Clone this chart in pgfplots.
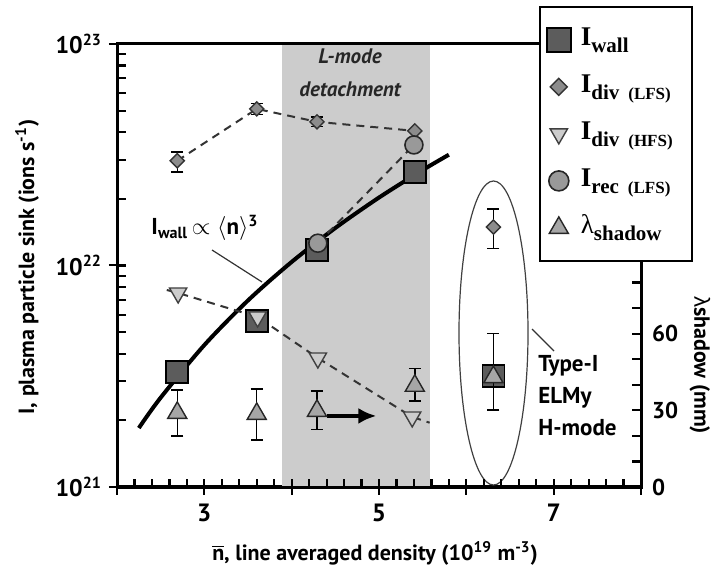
\documentclass[border=0pt]{standalone}
\usepackage{pgfplots}
\pgfplotsset{compat=1.18}
\usepackage{fontspec}
\setmainfont{PT Sans}
\newfontfamily\legfont{Liberation Serif}
\newfontfamily\gfont{Liberation Sans}
\usetikzlibrary{arrows.meta}
\definecolor{shadegray}{gray}{0.80}
\definecolor{sqfill}{gray}{0.36}
\definecolor{dmfill}{gray}{0.55}
\definecolor{dtfill}{gray}{0.80}
\definecolor{cifill}{gray}{0.60}
\definecolor{trfill}{gray}{0.65}
\newcommand\lsub[1]{\raisebox{-3.5pt}{\fontsize{10.5}{10.5}\selectfont #1}}
\newcommand\lsm[1]{{\fontsize{8.5}{8.5}\selectfont #1}}
\begin{document}
\begin{tikzpicture}[font=\fontsize{11}{13}\selectfont\bfseries]
\path[use as bounding box] (-58.5pt,-43pt) rectangle (302pt,243.5pt);
\pgfplotsset{base/.style={at={(0,0)}, anchor=south west, scale only axis,
  width=262pt, height=221.5pt, xmin=2, xmax=8}}
% ---------------- left axis: particle sinks ----------------
\begin{axis}[base, ymode=log, ymin=1e21, ymax=1e23,
  xtick pos=left, ytick pos=left,
  axis line style={line width=1.5pt},
  major tick style={black, line width=1pt},
  tick align=outside, major tick length=4pt, minor tick length=0pt,
  xtick={2,3,4,5,6,7,8}, xticklabels={,3,,5,,7,},
  ytick={1e21,1e22,1e23},
  yticklabels={10\textsuperscript{21},10\textsuperscript{22},10\textsuperscript{23}},
  minor ytick={5e22},
  xticklabel style={yshift=-1pt, font=\fontsize{12.5}{14}\selectfont\bfseries},
  yticklabel style={xshift=0pt, font=\fontsize{12}{14}\selectfont\bfseries},
  error bars/error bar style={black, line width=0.7pt},
  error bars/error mark options={black, line width=0.7pt, mark size=3pt, rotate=90},
]
\fill[shadegray] (axis cs:3.89,1e21) rectangle (axis cs:5.58,1e23);
% I_wall ~ <n>^3 fit
\addplot[black, line width=2pt, smooth] coordinates {
 (2.25,1.845e21) (2.5,2.53e21) (3.0,4.37e21) (3.5,6.95e21) (4.0,1.037e22)
 (4.5,1.476e22) (5.0,2.025e22) (5.5,2.695e22) (5.8,3.161e22)};
% dashed guide lines
\addplot[black!80, line width=1pt, dash pattern=on 4pt off 3pt] coordinates {
 (2.69,2.97e22) (3.60,5.09e22) (4.29,4.45e22) (5.41,4.05e22)};
\addplot[black!80, line width=1pt, dash pattern=on 4pt off 3pt] coordinates {
 (2.57,7.75e21) (2.70,7.51e21) (3.61,5.85e21) (4.30,3.82e21) (5.38,2.07e21) (5.58,1.95e21)};
\addplot[black!80, line width=1pt, dash pattern=on 4pt off 3pt] coordinates {
 (4.30,1.26e22) (5.40,3.50e22)};
% I_wall
\addplot[only marks, mark=square*, mark size=5.5pt,
  mark options={fill=sqfill, draw=black, line width=0.8pt}] coordinates {
 (2.69,3.30e21) (3.60,5.61e21) (4.29,1.175e22) (5.41,2.64e22) (6.31,3.17e21)};
% I_div (LFS)
\addplot[only marks, mark=square*, mark size=2.5pt,
  mark options={rotate=45, fill=dmfill, draw=black!80, line width=0.7pt},
  error bars/.cd, y dir=both, y explicit] coordinates {
 (2.69,2.97e22) += (0,0.28e22) -= (0,0.33e22)
 (3.60,5.09e22) += (0,0.30e22) -= (0,0.30e22)
 (4.29,4.45e22) += (0,0.22e22) -= (0,0.22e22)
 (5.41,4.05e22) += (0,0) -= (0,0)
 (6.31,1.49e22) += (0,0.31e22) -= (0,0.30e22)};
% I_div (HFS)
\addplot[only marks, mark=triangle*, mark size=5pt,
  mark options={rotate=180, fill=dtfill, draw=black!75, line width=0.7pt}] coordinates {
 (2.70,7.51e21) (3.61,5.85e21) (4.30,3.82e21) (5.38,2.07e21)};
% I_rec (LFS)
\addplot[only marks, mark=*, mark size=4.5pt,
  mark options={fill=cifill, draw=black!85, line width=0.8pt}] coordinates {
 (4.30,1.26e22) (5.40,3.50e22)};
\end{axis}
% ---------------- right axis: lambda shadow ----------------
\begin{axis}[base, ymin=0, ymax=173.3,
  ytick pos=right, xtick=\empty,
  axis line style={line width=1.5pt},
  major tick style={draw=none},
  tick align=outside, major tick length=0pt,
  ytick={0,30,60}, yticklabels={0,30,60},
  yticklabel style={xshift=2pt, font=\fontsize{11.5}{14}\selectfont\bfseries},
  error bars/error bar style={black, line width=0.7pt},
  error bars/error mark options={black, line width=0.7pt, mark size=3pt, rotate=90},
]
\addplot[only marks, mark=triangle*, mark size=5.5pt,
  mark options={fill=trfill, draw=black!85, line width=0.7pt},
  error bars/.cd, y dir=both, y explicit] coordinates {
 (2.69,29.0) += (0,9.0) -= (0,9.0)
 (3.60,28.6) += (0,9.8) -= (0,10.2)
 (4.29,29.8) += (0,7.8) -= (0,7.4)
 (5.41,39.6) += (0,6.7) -= (0,5.9)
 (6.31,43.0) += (0,17.0) -= (0,12.8)};
\draw[-{Latex[length=9pt,width=8pt]}, line width=1.8pt] (axis cs:4.40,27.8) -- (axis cs:4.97,27.8);
\end{axis}
% ---------------- legend ----------------
\begin{axis}[base, hide axis, ymin=0, ymax=1,
  legend cell align=left,
  legend style={at={(0.805,1.086)}, anchor=north west, draw=black, line width=1pt,
    fill=white, font=\legfont\bfseries\fontsize{13.5}{14}\selectfont,
    inner xsep=3.5pt, inner ysep=9.5pt, row sep=9.5pt, column sep=3pt,
    nodes={text height=10pt, text depth=4pt, inner ysep=0pt, text width=50pt}},
]
\addlegendimage{only marks, mark=square*, mark size=6pt, mark options={fill=sqfill, draw=black, line width=0.8pt}}
\addlegendentry{I\lsub{wall}}
\addlegendimage{only marks, mark=square*, mark size=3pt, mark options={rotate=45, fill=dmfill, draw=black!80, line width=0.7pt}}
\addlegendentry{I\lsub{div \lsm{(LFS)}}}
\addlegendimage{only marks, mark=triangle*, mark size=5pt, mark options={rotate=180, fill=dtfill, draw=black!75, line width=0.7pt}}
\addlegendentry{I\lsub{div \lsm{(HFS)}}}
\addlegendimage{only marks, mark=*, mark size=5pt, mark options={fill=cifill, draw=black!85, line width=0.8pt}}
\addlegendentry{I\lsub{rec \lsm{(LFS)}}}
\addlegendimage{only marks, mark=triangle*, mark size=5.5pt, mark options={fill=trfill, draw=black!85, line width=0.7pt}}
\addlegendentry{{\mdseries λ}\lsub{shadow}}
\end{axis}
% ---------------- annotations ----------------
\node[align=center, font=\fontsize{10.5}{16.5}\selectfont\bfseries\itshape, text=black!85]
  at (116.5pt,207pt) {L-mode\\detachment};
\node[font=\fontsize{11.5}{13}\selectfont\bfseries] at (44pt,129.5pt)
  {I\textsubscript{wall}\,{\mdseries$\propto\langle$}n{\mdseries$\rangle$}\textsuperscript{3}};
\draw[black!80, line width=0.6pt] (47.5pt,118.5pt) -- (72.5pt,102.5pt);
\draw[black!75, line width=0.6pt] (188.25pt,77pt) ellipse [x radius=17.25pt, y radius=76pt];
\draw[black!80, line width=0.6pt] (207.5pt,79pt) -- (218.5pt,68pt);
\node[anchor=north west, align=left, font=\fontsize{11.5}{16}\selectfont\bfseries, inner sep=0pt]
  at (210.5pt,66pt) {Type-I\\ELMy\\H-mode};
\node[rotate=90] at (-45pt,110pt) {I, plasma particle sink (ions s\textsuperscript{-1})};
\node at (129pt,-33pt) {$\overline{\mbox{n}}$, line averaged density (10\textsuperscript{19} m\textsuperscript{-3})};
\node[rotate=-90] at (291.5pt,61pt) {{\gfont\mdseries λ}shadow (mm)};
% ---------------- inward tick marks (axis decoration, drawn last) ----------------
\foreach \yy in {33.34,52.84,66.68,77.41,86.18,93.59,100.02,105.68,110.75,
  144.09,163.59,177.43,188.16,196.93,204.34,210.77,216.43}{
  \draw[black, line width=1.1pt] (0pt,\yy pt) -- (4.5pt,\yy pt);}
\foreach \xx in {8.733,17.467,26.2,34.933,43.667,52.4,61.133,69.867,78.6,87.333,
  96.067,104.8,113.533,122.267,131,139.733,148.467,157.2,165.933,174.667,
  183.4,192.133,200.867,209.6,218.333,227.067,235.8,244.533,253.267}{
  \draw[black, line width=1.1pt] (\xx pt,0pt) -- (\xx pt,4pt);}
\foreach \yy in {12.78,25.56,38.34,51.13,63.91,76.69,89.47,102.25}{
  \draw[black, line width=1.1pt] (262pt,\yy pt) -- (257.5pt,\yy pt);}
\end{tikzpicture}
\end{document}
